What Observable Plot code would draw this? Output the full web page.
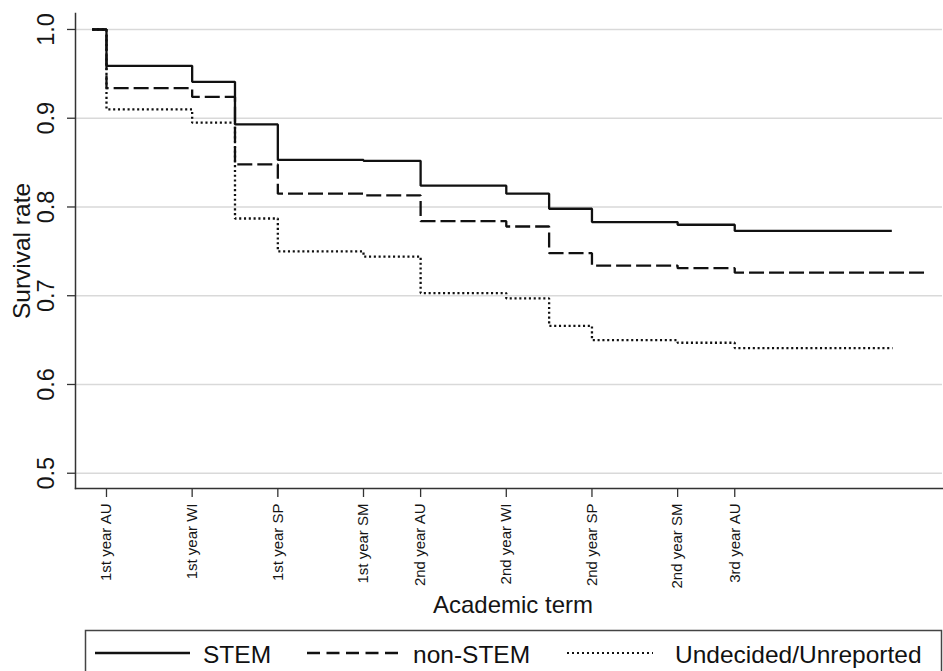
<!DOCTYPE html>
<html>
<head>
<meta charset="utf-8">
<script src="https://cdn.jsdelivr.net/npm/d3@7"></script>
<script src="https://cdn.jsdelivr.net/npm/@observablehq/plot@0.6"></script>
<style>
  body { margin: 0; background: #fff; }
  #wrap { position: relative; width: 943px; height: 671px; overflow: hidden; font-family: "Liberation Sans", Arial, Helvetica, sans-serif; }
  #wrap svg.plot { position: absolute; left: 0; top: 0; }
  #legend { position: absolute; left: 0; top: 628px; }
</style>
</head>
<body>
<div id="wrap"></div>
<script>
// ---- data ----
const termLabels = ["1st year AU", "1st year WI", "1st year SP", "1st year SM", "2nd year AU", "2nd year WI", "2nd year SP", "2nd year SM", "3rd year AU"];
const termWeeks = [0, 12, 24, 36, 44, 56, 68, 80, 88];
const changeWeeks = [-2, 0, 12, 18, 24, 36, 44, 56, 62, 68, 80, 88];
const stemValues      = [1.0, 0.959, 0.941, 0.893, 0.853, 0.852, 0.824, 0.815, 0.798, 0.783, 0.780, 0.773];
const nonStemValues   = [1.0, 0.934, 0.924, 0.848, 0.815, 0.813, 0.784, 0.778, 0.748, 0.734, 0.731, 0.726];
const undecidedValues = [1.0, 0.910, 0.895, 0.787, 0.750, 0.744, 0.703, 0.697, 0.666, 0.650, 0.647, 0.641];
const seriesNames = ["STEM", "non-STEM", "Undecided/Unreported"];
const seriesEndWeeks = [110, 115.1, 110.1];
const yTicks = [0.5, 0.6, 0.7, 0.8, 0.9, 1.0];

// ---- build table ----
const valuesBySeries = [stemValues, nonStemValues, undecidedValues];
const rows = [];
seriesNames.forEach((s, i) => {
  const v = valuesBySeries[i];
  changeWeeks.forEach((w, j) => rows.push({series: s, week: w, rate: v[j]}));
  rows.push({series: s, week: seriesEndWeeks[i], rate: v[v.length - 1]});
});

const lineStyles = {
  "STEM": {strokeWidth: 2.3, strokeDasharray: null},
  "non-STEM": {strokeWidth: 2.3, strokeDasharray: "15,5"},
  "Undecided/Unreported": {strokeWidth: 2.3, strokeDasharray: "2.1,2.7"}
};

const xDomain = [-4.34, 117.1];
const yDomain = [0.4828, 1.018];
const fontFam = '"Liberation Sans", Arial, Helvetica, sans-serif';

const chart = Plot.plot({
  width: 943,
  height: 628,
  marginLeft: 75,
  marginRight: 1,
  marginTop: 13,
  marginBottom: 140,
  style: {fontFamily: fontFam, background: "white", color: "#151515", overflow: "visible"},
  x: {type: "linear", domain: xDomain},
  y: {domain: yDomain},
  marks: [
    Plot.gridY(yTicks, {stroke: "#d9d9d9", strokeOpacity: 1, strokeWidth: 1.6}),
    ...seriesNames.map(s => Plot.line(rows.filter(r => r.series === s), {
      x: "week", y: "rate", curve: "step-after", stroke: "#111",
      strokeWidth: lineStyles[s].strokeWidth,
      strokeDasharray: lineStyles[s].strokeDasharray,
      strokeLinecap: "butt", strokeLinejoin: "miter"
    })),
    Plot.frame({anchor: "left", stroke: "#333", strokeWidth: 1.5}),
    Plot.frame({anchor: "bottom", stroke: "#333", strokeWidth: 1.5}),
    Plot.axisY(yTicks, {tickSize: 8, tickRotate: -90, tickPadding: 14, fontSize: 23.5,
      tickFormat: d => d.toFixed(1), stroke: "#333", strokeWidth: 1.3, label: null}),
    Plot.axisX(termWeeks, {tickSize: 9, tickRotate: -90, tickPadding: 6, fontSize: 15,
      tickFormat: d => termLabels[termWeeks.indexOf(d)], stroke: "#333", strokeWidth: 1.3, label: null}),
    Plot.text(["Survival rate"], {frameAnchor: "left", text: d => d, rotate: -90, dx: -53, fontSize: 24.5,
      textAnchor: "middle", lineAnchor: "middle", fill: "#151515"}),
    Plot.text(["Academic term"], {frameAnchor: "bottom", text: d => d, dy: 124, dx: 4, fontSize: 24,
      textAnchor: "middle", lineAnchor: "bottom", fill: "#151515"})
  ]
});
chart.classList.add("plot");
document.getElementById("wrap").appendChild(chart);

// ---- legend (below the chart) ----
const legendItems = [
  {name: seriesNames[0], x0: 95, x1: 190, tx: 203},
  {name: seriesNames[1], x0: 307, x1: 398, tx: 413},
  {name: seriesNames[2], x0: 567, x1: 653, tx: 675}
];
const legendDash = {"STEM": null, "non-STEM": "13,6.5", "Undecided/Unreported": "2,3"};
const legendWidth = {"STEM": 2.3, "non-STEM": 2.3, "Undecided/Unreported": 2};
const lg = d3.create("svg").attr("id", "legend").attr("width", 943).attr("height", 43);
lg.append("rect").attr("x", 85.5).attr("y", 2.5).attr("width", 856).attr("height", 60)
  .attr("fill", "none").attr("stroke", "#444").attr("stroke-width", 1.5);
legendItems.forEach(it => {
  lg.append("line").attr("x1", it.x0).attr("x2", it.x1).attr("y1", 25).attr("y2", 25)
    .attr("stroke", "#111").attr("stroke-width", legendWidth[it.name])
    .attr("stroke-dasharray", legendDash[it.name]);
  lg.append("text").attr("x", it.tx).attr("y", 35).text(it.name)
    .attr("font-size", 24.5).attr("fill", "#111")
    .attr("font-family", fontFam);
});
document.getElementById("wrap").appendChild(lg.node());
</script>
</body>
</html>
